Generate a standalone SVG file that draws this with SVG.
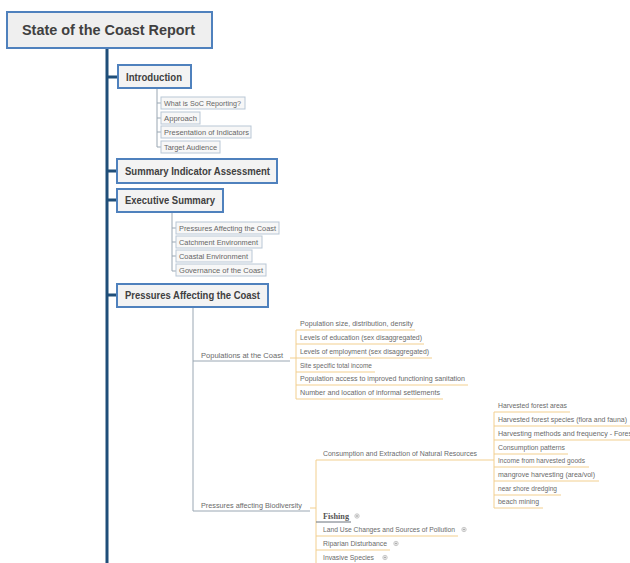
<svg xmlns="http://www.w3.org/2000/svg" width="630" height="563" viewBox="0 0 630 563">
<style>
text{font-family:"Liberation Sans",Arial,sans-serif;}
.root rect{fill:#efefef;stroke:#4f81bd;stroke-width:2;}
.root text{font-size:14px;font-weight:bold;fill:#404040;}
.l1 rect{fill:#f3f3f3;stroke:#4f81bd;stroke-width:2;}
.l1 text{font-size:11px;font-weight:bold;fill:#404040;}
.l2 rect{fill:#f7f7f7;stroke:#b9c7d6;stroke-width:1;}
.l2 text{font-size:6.5px;fill:#666;}
.t{font-size:6.5px;fill:#6a6a6a;}
.main{stroke:#1f4e79;stroke-width:3;fill:none;}
.g{stroke:#9aa7b3;stroke-width:1;fill:none;}
.o{stroke:#f2cf8f;stroke-width:1;fill:none;}
.dk{stroke:#6a737c;stroke-width:1;fill:none;}
.plus circle{fill:#fff;stroke:#b0b0b0;stroke-width:0.7;}
.plus path{stroke:#999;stroke-width:0.7;}
.fish{font-family:"Liberation Serif","Times New Roman",serif;font-size:9px;font-weight:bold;fill:#555;}
</style>
<defs>
<g id="pl" class="plus"><circle r="2.2"/><path d="M-1.3 0H1.3M0 -1.3V1.3"/></g>
</defs>

<g id="connectors">
<path class="main" d="M107 48V563M107 77H118M107 171H117M107 200H117M107 295H117"/>
<path class="g" d="M157 88V147M157 103H161M157 118H161M157 132H161M157 147H161"/>
<path class="g" d="M172 212V271M172 228H176M172 242H176M172 256H176M172 271H176"/>
<path class="g" d="M193 307V511M193 361H290M193 511H310"/>
<path class="o" d="M290 358H296M296 330V399M296 330H415M296 344H424M296 358H432M296 372H375M296 385H468M296 399H443"/>
<path class="o" d="M310 508H316M316 460V563M316 460H490M316 536H458M316 550H390"/>
<path class="dk" d="M316 522H351"/>
<path class="o" d="M490 460H494M494 412V508M494 412H570M494 426H630M494 440H630M494 454H568M494 467H589M494 481H599M494 495H561M494 508H543"/>
</g>

<g id="root" class="root"><rect x="7" y="12" width="205" height="36"/><text x="22" y="35" textLength="173" lengthAdjust="spacingAndGlyphs">State of the Coast Report</text></g>

<g id="introduction" class="l1"><rect x="118" y="65" width="73" height="23"/><text x="126" y="81" textLength="56" lengthAdjust="spacingAndGlyphs">Introduction</text></g>
<g id="soc" class="l2"><rect x="161" y="97" width="84" height="12"/><text x="164" y="105.5" textLength="77" lengthAdjust="spacingAndGlyphs">What is SoC Reporting?</text></g>
<g id="approach" class="l2"><rect x="161" y="112" width="39" height="12"/><text x="164" y="120.5" textLength="33" lengthAdjust="spacingAndGlyphs">Approach</text></g>
<g id="presentation" class="l2"><rect x="161" y="126" width="90" height="12"/><text x="164" y="134.5" textLength="85" lengthAdjust="spacingAndGlyphs">Presentation of Indicators</text></g>
<g id="audience" class="l2"><rect x="161" y="141" width="59" height="12"/><text x="164" y="149.5" textLength="53" lengthAdjust="spacingAndGlyphs">Target Audience</text></g>

<g id="summary" class="l1"><rect x="117" y="159" width="160" height="24"/><text x="125" y="175" textLength="145" lengthAdjust="spacingAndGlyphs">Summary Indicator Assessment</text></g>

<g id="executive" class="l1"><rect x="117" y="189" width="106" height="23"/><text x="125" y="204" textLength="90" lengthAdjust="spacingAndGlyphs">Executive Summary</text></g>
<g id="ex-pressures" class="l2"><rect x="176" y="222" width="103" height="12"/><text x="179" y="230.5" textLength="97" lengthAdjust="spacingAndGlyphs">Pressures Affecting the Coast</text></g>
<g id="ex-catchment" class="l2"><rect x="176" y="236" width="86" height="12"/><text x="179" y="244.5" textLength="79" lengthAdjust="spacingAndGlyphs">Catchment Environment</text></g>
<g id="ex-coastal" class="l2"><rect x="176" y="250" width="76" height="12"/><text x="179" y="258.5" textLength="69" lengthAdjust="spacingAndGlyphs">Coastal Environment</text></g>
<g id="ex-governance" class="l2"><rect x="176" y="264" width="90" height="12"/><text x="179" y="272.5" textLength="84" lengthAdjust="spacingAndGlyphs">Governance of the Coast</text></g>

<g id="pressures" class="l1"><rect x="117" y="284" width="151" height="23"/><text x="125" y="299" textLength="135" lengthAdjust="spacingAndGlyphs">Pressures Affecting the Coast</text></g>

<g id="populations"><text class="t" x="201" y="358" textLength="82" lengthAdjust="spacingAndGlyphs">Populations at the Coast</text></g>
<g id="pop1"><text class="t" x="300" y="326" textLength="113" lengthAdjust="spacingAndGlyphs">Population size, distribution, density</text></g>
<g id="pop2"><text class="t" x="300" y="340" textLength="122" lengthAdjust="spacingAndGlyphs">Levels of education (sex disaggregated)</text></g>
<g id="pop3"><text class="t" x="300" y="354" textLength="129" lengthAdjust="spacingAndGlyphs">Levels of employment (sex disaggregated)</text></g>
<g id="pop4"><text class="t" x="300" y="368" textLength="72" lengthAdjust="spacingAndGlyphs">Site specific total income</text></g>
<g id="pop5"><text class="t" x="300" y="381" textLength="165" lengthAdjust="spacingAndGlyphs">Population access to improved functioning sanitation</text></g>
<g id="pop6"><text class="t" x="300" y="395" textLength="140" lengthAdjust="spacingAndGlyphs">Number and location of informal settlements</text></g>

<g id="biodiversity"><text class="t" x="201" y="508" textLength="101" lengthAdjust="spacingAndGlyphs">Pressures affecting Biodiversity</text></g>
<g id="consumption"><text class="t" x="323" y="456" textLength="154" lengthAdjust="spacingAndGlyphs">Consumption and Extraction of Natural Resources</text></g>
<g id="c1"><text class="t" x="498" y="408" textLength="69" lengthAdjust="spacingAndGlyphs">Harvested forest areas</text></g>
<g id="c2"><text class="t" x="498" y="422" textLength="129" lengthAdjust="spacingAndGlyphs">Harvested forest species (flora and fauna)</text></g>
<g id="c3"><text class="t" x="498" y="436" textLength="136" lengthAdjust="spacingAndGlyphs">Harvesting methods and frequency - Forest</text></g>
<g id="c4"><text class="t" x="498" y="450" textLength="67" lengthAdjust="spacingAndGlyphs">Consumption patterns</text></g>
<g id="c5"><text class="t" x="498" y="463" textLength="87" lengthAdjust="spacingAndGlyphs">Income from harvested goods</text></g>
<g id="c6"><text class="t" x="498" y="477" textLength="97" lengthAdjust="spacingAndGlyphs">mangrove harvesting (area/vol)</text></g>
<g id="c7"><text class="t" x="498" y="491" textLength="59" lengthAdjust="spacingAndGlyphs">near shore dredging</text></g>
<g id="c8"><text class="t" x="498" y="504" textLength="41" lengthAdjust="spacingAndGlyphs">beach mining</text></g>

<g id="fishing"><text class="fish" x="323" y="519" textLength="26" lengthAdjust="spacingAndGlyphs">Fishing</text><use href="#pl" x="357" y="516"/></g>
<g id="landuse"><text class="t" x="323" y="532" textLength="132" lengthAdjust="spacingAndGlyphs">Land Use Changes and Sources of Pollution</text><use href="#pl" x="464" y="529.5"/></g>
<g id="riparian"><text class="t" x="323" y="546" textLength="64" lengthAdjust="spacingAndGlyphs">Riparian Disturbance</text><use href="#pl" x="396" y="543.5"/></g>
<g id="invasive"><text class="t" x="323" y="560" textLength="51" lengthAdjust="spacingAndGlyphs">Invasive Species</text><use href="#pl" x="385" y="557.5"/></g>
</svg>
